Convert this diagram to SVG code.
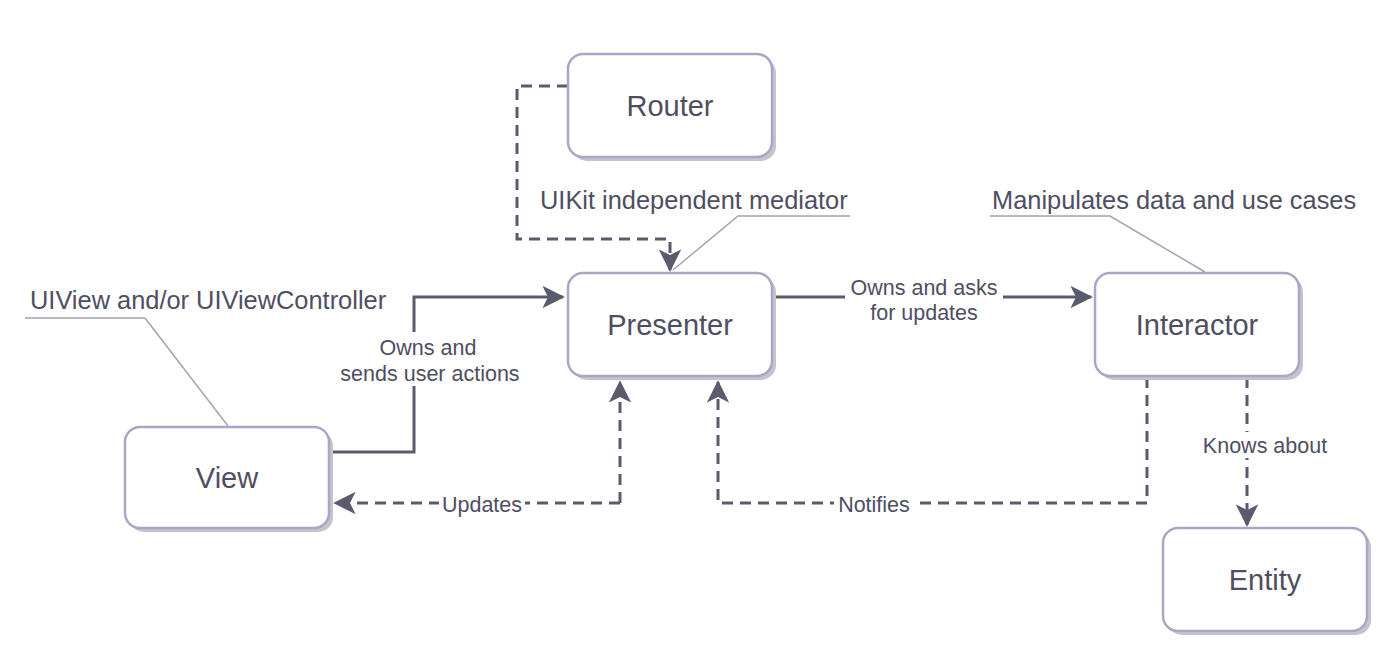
<svg xmlns="http://www.w3.org/2000/svg" width="1390" height="662" viewBox="0 0 1390 662">
<style>
.box{fill:#fff;stroke:#a9a6c6;stroke-width:2.5}
.sh{fill:#c4c4cc}
.lbl{font-family:"Liberation Sans",Arial,sans-serif;font-size:29px;fill:#4f4e62;text-anchor:middle}
.note{font-family:"Liberation Sans",Arial,sans-serif;font-size:25.4px;fill:#4f4e62}
.el{font-family:"Liberation Sans",Arial,sans-serif;font-size:21.5px;fill:#4f4e62;text-anchor:middle}
.c{fill:none;stroke:#5c5b6e;stroke-width:3}
.d{stroke-dasharray:11 7}
.nl{fill:none;stroke:#a4a3b4;stroke-width:1.5}
</style>
<defs>
<marker id="a" viewBox="0 0 12 12" refX="11" refY="6" markerWidth="7.5" markerHeight="7.5" orient="auto" markerUnits="strokeWidth">
<path d="M0,0 L12,6 L0,12 L3,6 z" fill="#5c5b6e"/>
</marker>
</defs>
<rect width="1390" height="662" fill="#fff"/>
<g id="connectors">
<path class="c d" d="M568,86 H517 V239 H670 V270" marker-end="url(#a)"/>
<path class="c" d="M329,452 H414 V297 H563" marker-end="url(#a)"/>
<path class="c" d="M772,297 H1091" marker-end="url(#a)"/>
<path class="c d" d="M620,503 V382" marker-end="url(#a)"/>
<path class="c d" d="M620,503 H335" marker-end="url(#a)"/>
<path class="c d" d="M1147,377 V503 H718 V382" marker-end="url(#a)"/>
<path class="c d" d="M1247,377 V525" marker-end="url(#a)"/>
<rect x="845" y="274" width="158" height="50" fill="#fff"/>
<text class="el" x="924" y="295">Owns and asks</text>
<text class="el" x="924" y="320">for updates</text>
<rect x="334" y="332" width="194" height="54" fill="#fff"/>
<text class="el" x="428" y="355">Owns and</text>
<text class="el" x="430" y="381">sends user actions</text>
<rect x="439" y="490" width="86" height="26" fill="#fff"/>
<text class="el" x="482" y="512">Updates</text>
<rect x="834" y="490" width="80" height="26" fill="#fff"/>
<text class="el" x="874" y="512">Notifies</text>
<rect x="1198" y="432" width="134" height="26" fill="#fff"/>
<text class="el" x="1265" y="453">Knows about</text>
</g>
<g id="notes">
<text class="note" x="540" y="209">UIKit independent mediator</text>
<path class="nl" d="M673,270 L738,216 H850"/>
<text class="note" x="992" y="209">Manipulates data and use cases</text>
<path class="nl" d="M990,216 H1110 L1205,272"/>
<text class="note" x="30" y="309">UIView and/or UIViewController</text>
<path class="nl" d="M25,318 H145 L228,426"/>
</g>
<g id="router">
<rect class="sh" x="572" y="58" width="204" height="103" rx="15"/>
<rect class="box" x="568" y="54" width="204" height="103" rx="15"/>
<text class="lbl" x="670" y="116">Router</text>
</g>
<g id="presenter">
<rect class="sh" x="572" y="277" width="204" height="103" rx="15"/>
<rect class="box" x="568" y="273" width="204" height="103" rx="15"/>
<text class="lbl" x="670" y="335">Presenter</text>
</g>
<g id="interactor">
<rect class="sh" x="1099" y="277" width="204" height="103" rx="15"/>
<rect class="box" x="1095" y="273" width="204" height="103" rx="15"/>
<text class="lbl" x="1197" y="335">Interactor</text>
</g>
<g id="view">
<rect class="sh" x="129" y="431" width="204" height="101" rx="15"/>
<rect class="box" x="125" y="427" width="204" height="101" rx="15"/>
<text class="lbl" x="227" y="488">View</text>
</g>
<g id="entity">
<rect class="sh" x="1167" y="532" width="204" height="103" rx="15"/>
<rect class="box" x="1163" y="528" width="204" height="103" rx="15"/>
<text class="lbl" x="1265" y="590">Entity</text>
</g>
</svg>
